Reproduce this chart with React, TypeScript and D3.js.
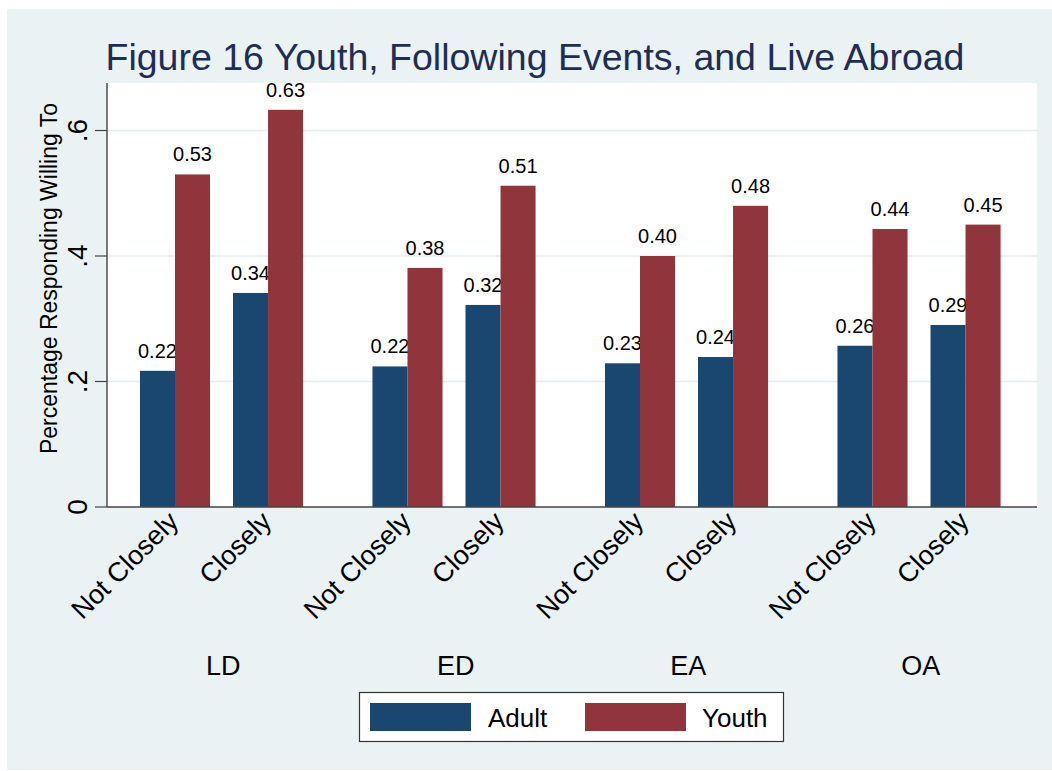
import React from "react";
import * as d3 from "d3";

const groups = ["LD", "ED", "EA", "OA"];
const followLevels = ["Not Closely", "Closely"];
const seriesNames = ["Adult", "Youth"];
// values in order: LD-Not Closely, LD-Closely, ED-NC, ED-C, EA-NC, EA-C, OA-NC, OA-C
const adultValues = [0.217, 0.341, 0.224, 0.322, 0.229, 0.239, 0.257, 0.29];
const youthValues = [0.53, 0.633, 0.381, 0.512, 0.4, 0.48, 0.443, 0.45];
const yTicks = [0, 0.2, 0.4, 0.6];
const yTickLabels = ["0", ".2", ".4", ".6"];

const COLORS: Record<string, string> = { Adult: "#1A476F", Youth: "#90353B" };
const FONT = "'Liberation Sans', Arial, Helvetica, sans-serif";

export default function App() {
  const W = 1052;
  const H = 771;
  const plot = { left: 107, right: 1037, top: 83, bottom: 507 };

  const y = d3.scaleLinear().domain([0, 0.6]).range([plot.bottom, 130.5]);
  const x0 = d3.scaleBand<string>().domain(groups).range([plot.left, plot.right]).padding(0);
  const x1 = d3
    .scaleBand<string>()
    .domain(followLevels)
    .range([0, x0.bandwidth()])
    .paddingInner(0.247)
    .paddingOuter(0.373)
    .align(0.475);
  const x2 = d3.scaleBand<string>().domain(seriesNames).range([0, x1.bandwidth()]).padding(0);

  const rows = groups.flatMap((g, gi) =>
    followLevels.map((f, fi) => {
      const i = gi * followLevels.length + fi;
      return { g, f, Adult: adultValues[i], Youth: youthValues[i] };
    })
  );

  return (
    <svg
      width={W}
      height={H}
      style={{ position: "absolute", left: 0, top: 0, display: "block" }}
      fontFamily={FONT}
    >
      <rect x={0} y={0} width={W} height={H} fill="#ffffff" />
      <rect x={7} y={9} width={W - 7} height={761} fill="#EAF2F3" />
      {/* plot area */}
      <rect x={plot.left} y={plot.top} width={plot.right - plot.left} height={plot.bottom - plot.top} fill="#ffffff" />
      {/* gridlines */}
      {yTicks.slice(1).map((t) => (
        <line key={t} x1={plot.left} x2={plot.right} y1={y(t)} y2={y(t)} stroke="#E4EDEF" strokeWidth={1.6} />
      ))}
      {/* title */}
      <text x={535} y={70} textAnchor="middle" fontSize={37.5} fill="#1E2D55">
        Figure 16 Youth, Following Events, and Live Abroad
      </text>
      {/* bars */}
      {rows.map((r) => {
        const bx = (x0(r.g) as number) + (x1(r.f) as number);
        return (
          <g key={r.g + r.f}>
            {seriesNames.map((s) => {
              const v = (r as any)[s] as number;
              const xx = bx + (x2(s) as number);
              return (
                <g key={s}>
                  <rect x={xx} y={y(v)} width={x2.bandwidth()} height={y(0) - y(v)} fill={COLORS[s]} />
                  <text
                    x={xx + x2.bandwidth() / 2}
                    y={y(v) - 13}
                    textAnchor="middle"
                    fontSize={20}
                    fill="#000"
                  >
                    {d3.format(".2f")(v)}
                  </text>
                </g>
              );
            })}
          </g>
        );
      })}
      {/* axes */}
      <line x1={plot.left} x2={plot.left} y1={plot.top} y2={plot.bottom} stroke="#222" strokeWidth={1.2} />
      <line x1={plot.left} x2={plot.right} y1={plot.bottom} y2={plot.bottom} stroke="#444" strokeWidth={1.5} />
      {yTicks.map((t, i) => (
        <g key={t}>
          <line x1={plot.left - 12} x2={plot.left} y1={y(t)} y2={y(t)} stroke="#444" strokeWidth={1.2} />
          <text
            transform={`translate(${87},${y(t)}) rotate(-90)`}
            textAnchor="middle"
            fontSize={28}
            fill="#000"
          >
            {yTickLabels[i]}
          </text>
        </g>
      ))}
      <text
        transform={`translate(${57},${278.5}) rotate(-90)`}
        textAnchor="middle"
        fontSize={23}
        fill="#000"
      >
        Percentage Responding Willing To
      </text>
      {/* category labels */}
      {rows.map((r) => {
        const cx = (x0(r.g) as number) + (x1(r.f) as number) + x1.bandwidth() / 2;
        return (
          <text
            key={"l" + r.g + r.f}
            transform={`translate(${cx + 5},${523}) rotate(-45)`}
            textAnchor="end"
            fontSize={27}
            fill="#000"
          >
            {r.f}
          </text>
        );
      })}
      {groups.map((g) => (
        <text key={g} x={(x0(g) as number) + x0.bandwidth() / 2} y={675} textAnchor="middle" fontSize={27} fill="#000">
          {g}
        </text>
      ))}
      {/* legend */}
      <rect x={359.5} y={692.5} width={424} height={49} fill="#fff" stroke="#333" strokeWidth={1.2} />
      {seriesNames.map((s, i) => (
        <g key={s}>
          <rect x={370 + i * 215} y={703} width={101} height={28} fill={COLORS[s]} />
          <text x={488 + i * 214} y={727} fontSize={26} fill="#000">
            {s}
          </text>
        </g>
      ))}
    </svg>
  );
}
